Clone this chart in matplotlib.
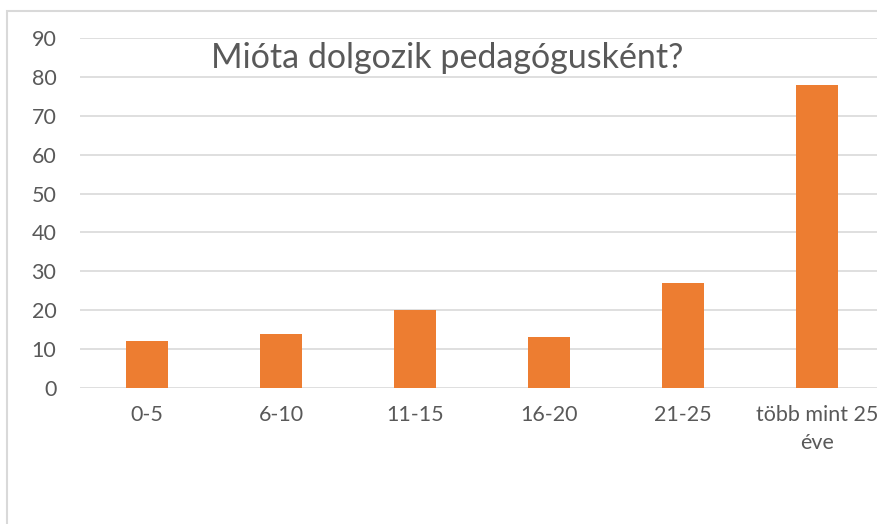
import matplotlib.pyplot as plt
from matplotlib.patches import Rectangle

plt.rcParams['font.family'] = ['Lato', 'DejaVu Sans']

categories = ['0-5', '6-10', '11-15', '16-20', '21-25', 'több mint 25\néve']
values = [12, 14, 20, 13, 27, 78]
yticks = [0, 10, 20, 30, 40, 50, 60, 70, 80, 90]
title = 'Mióta dolgozik pedagógusként?'

W, H = 877, 524
fig = plt.figure(figsize=(W / 100, H / 100), dpi=100)

# outer chart frame (cut off on right and bottom)
fig.patches.append(Rectangle((7 / W, -0.1), 1.2, 1 - 11 / H + 0.1,
                             transform=fig.transFigure, fill=False,
                             edgecolor='#d9d9d9', linewidth=1.5))

ax = fig.add_axes([80 / W, 1 - 388 / H, 804 / W, 350 / H])
x = range(len(categories))
ax.bar(x, values, width=0.31, color='#ED7D31', zorder=3)
ax.set_xlim(-0.5, len(categories) - 0.5)
ax.set_ylim(0, 90)
ax.set_yticks(yticks)
ax.set_xticks(list(x))
ax.set_xticklabels(categories)
ax.grid(axis='y', color='#d9d9d9', linewidth=1.2, zorder=0)
for s in ax.spines.values():
    s.set_visible(False)
ax.tick_params(length=0, labelsize=15.5, labelcolor='#595959')
ax.tick_params(axis='y', pad=17)
ax.tick_params(axis='x', pad=12)
for lbl in ax.get_xticklabels():
    lbl.set_linespacing(1.55)

fig.text(447 / W, 1 - 58 / H, title, ha='center', va='center',
         fontsize=24.5, color='#595959')

fig.savefig('out.png', dpi=100)
